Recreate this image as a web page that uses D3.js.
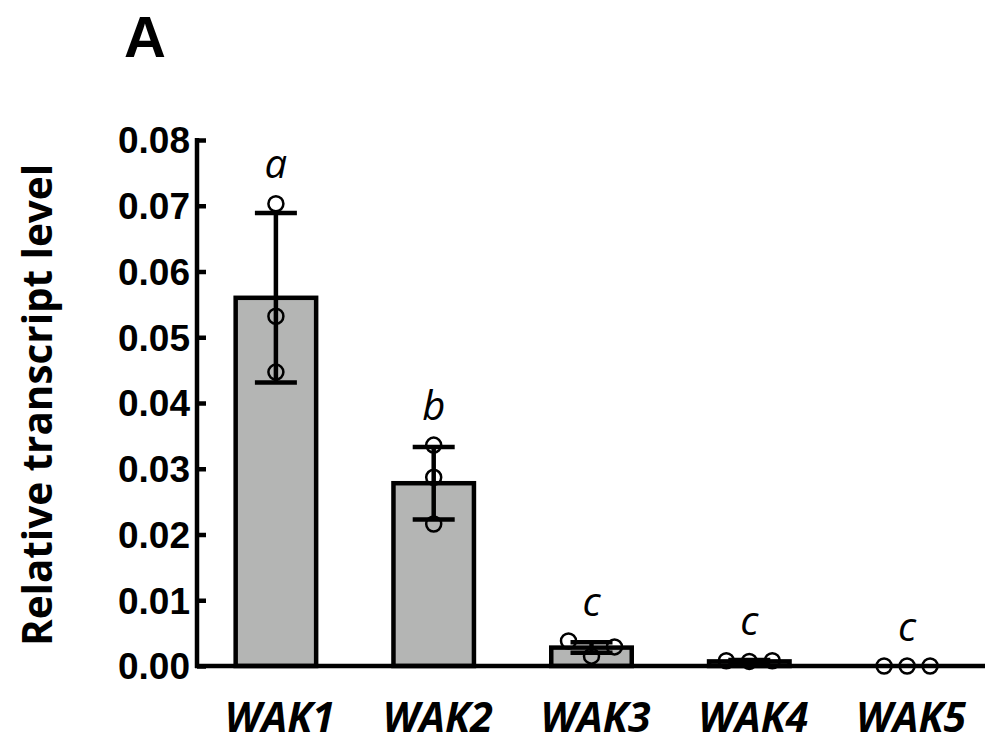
<!DOCTYPE html>
<meta charset="utf-8">
<head>
    <title>Relative transcript level</title>
    <style>
        body { margin: 0; background: #fff; }
    </style>
</head>
<body>
<script src="https://d3js.org/d3.v7.min.js"></script>
<svg id="chart" width="987" height="750"></svg>

<script>
    // values
    var genes = ["WAK1", "WAK2", "WAK3", "WAK4", "WAK5"];
    var means = [0.056, 0.0278, 0.0028, 0.0007, 0];
    var sds = [0.0129, 0.0055, 0.0008, 0.0002, 0];
    var rep1 = [0.0703, 0.0336, 0.0038, 0.0008, 0];
    var rep2 = [0.0532, 0.0287, 0.0015, 0.0007, 0];
    var rep3 = [0.0447, 0.0216, 0.0029, 0.0008, 0];
    var letters = ["a", "b", "c", "c", "c"];
    var yTicks = [0, 0.01, 0.02, 0.03, 0.04, 0.05, 0.06, 0.07, 0.08];

    var svg = d3.select("#chart"),
        axisX = 197,
        r = 7.5;

    var y = d3.scaleLinear()
        .domain([0, 0.08])
        .range([666, 140]);

    var x = d3.scaleBand()
        .domain(genes)
        .range([axisX, 986])
        .paddingInner(0.49)
        .paddingOuter(0.245);

    var bw = x.bandwidth();

    // bars
    svg.append("g").selectAll("rect")
        .data(genes)
        .enter().append("rect")
        .filter(function (d, i) { return means[i] > 0; })
        .attr("x", function (d) { return x(d); })
        .attr("y", function (d) { return y(means[genes.indexOf(d)]); })
        .attr("width", bw)
        .attr("height", function (d) { return y(0) - y(means[genes.indexOf(d)]); })
        .attr("fill", "#b4b5b4")
        .attr("stroke", "#000")
        .attr("stroke-width", 4.5)
        .attr("stroke-linejoin", "miter");

    // error bars
    var eb = svg.append("g")
        .attr("stroke", "#000")
        .attr("stroke-width", 4.5);
    genes.forEach(function (g, i) {
        if (sds[i] <= 0) return;
        var cx = x(g) + bw / 2,
            hi = y(means[i] + sds[i]),
            lo = y(means[i] - sds[i]),
            cap = 21;
        eb.append("line").attr("x1", cx).attr("x2", cx).attr("y1", hi).attr("y2", lo);
        eb.append("line").attr("x1", cx - cap).attr("x2", cx + cap).attr("y1", hi).attr("y2", hi);
        eb.append("line").attr("x1", cx - cap).attr("x2", cx + cap).attr("y1", lo).attr("y2", lo);
    });

    // axes
    var yAxis = d3.axisRight(y)
        .tickValues(yTicks)
        .tickSize(9)
        .tickFormat("");
    var gy = svg.append("g")
        .attr("transform", "translate(" + axisX + ",0)")
        .call(yAxis);
    gy.select(".domain").remove();
    gy.selectAll("line").attr("stroke", "#000").attr("stroke-width", 4.5);
    gy.append("line")
        .attr("x1", 0).attr("x2", 0)
        .attr("y1", y(0.08) - 2).attr("y2", y(0) + 2)
        .attr("stroke", "#000").attr("stroke-width", 4.5);

    svg.append("g").selectAll("text")
        .data(yTicks)
        .enter().append("text")
        .attr("x", 190)
        .attr("y", function (d) { return y(d); })
        .attr("dy", "0.36em")
        .attr("text-anchor", "end")
        .style("font-family", "'Liberation Sans', Arial, sans-serif")
        .style("font-weight", "bold")
        .style("font-size", "37px")
        .text(function (d) { return d.toFixed(2); });

    svg.append("line")
        .attr("x1", axisX - 2).attr("x2", 985)
        .attr("y1", y(0)).attr("y2", y(0))
        .attr("stroke", "#000").attr("stroke-width", 4.5);

    // replicate points, spread sideways only when they would overlap
    var pts = svg.append("g");
    genes.forEach(function (g, i) {
        var vals = [rep1[i], rep2[i], rep3[i]],
            ys = vals.map(function (v) { return y(v); }),
            crowded = d3.max(ys) - d3.min(ys) < 3 * r,
            cx = x(g) + bw / 2;
        vals.forEach(function (v, j) {
            pts.append("circle")
                .attr("cx", crowded ? cx + (j - 1) * 23 : cx)
                .attr("cy", y(v))
                .attr("r", r)
                .attr("fill", "none")
                .attr("stroke", "#000")
                .attr("stroke-width", 2.5);
        });
    });

    // significance letters
    svg.append("g").selectAll("text")
        .data(genes)
        .enter().append("text")
        .attr("x", function (d) { return x(d) + bw / 2; })
        .attr("y", function (d, i) {
            var top = Math.min(y(means[i] + sds[i]), y(d3.max([rep1[i], rep2[i], rep3[i]])) - r);
            return top - 18;
        })
        .attr("text-anchor", "middle")
        .style("font-family", "'Open Sans', sans-serif")
        .style("font-style", "italic")
        .style("font-size", "40px")
        .text(function (d, i) { return letters[i]; });

    // gene names
    svg.append("g").selectAll("text")
        .data(genes)
        .enter().append("text")
        .attr("x", function (d) { return x(d) + bw / 2 + 4; })
        .attr("y", 732)
        .attr("text-anchor", "middle")
        .style("font-family", "'Open Sans', sans-serif")
        .style("font-style", "italic")
        .style("font-weight", "bold")
        .style("font-size", "41px")
        .text(function (d) { return d; });

    // y title
    svg.append("text")
        .attr("transform", "translate(52,405) rotate(-90)")
        .attr("text-anchor", "middle")
        .attr("textLength", 482)
        .attr("lengthAdjust", "spacingAndGlyphs")
        .style("font-family", "'Open Sans', sans-serif")
        .style("font-weight", "bold")
        .style("font-size", "41px")
        .text("Relative transcript level");

    // panel letter
    svg.append("text")
        .attr("x", 124)
        .attr("y", 57)
        .style("font-family", "'Liberation Sans', Arial, sans-serif")
        .style("font-weight", "bold")
        .style("font-size", "58px")
        .text("A");
</script>

</body>
